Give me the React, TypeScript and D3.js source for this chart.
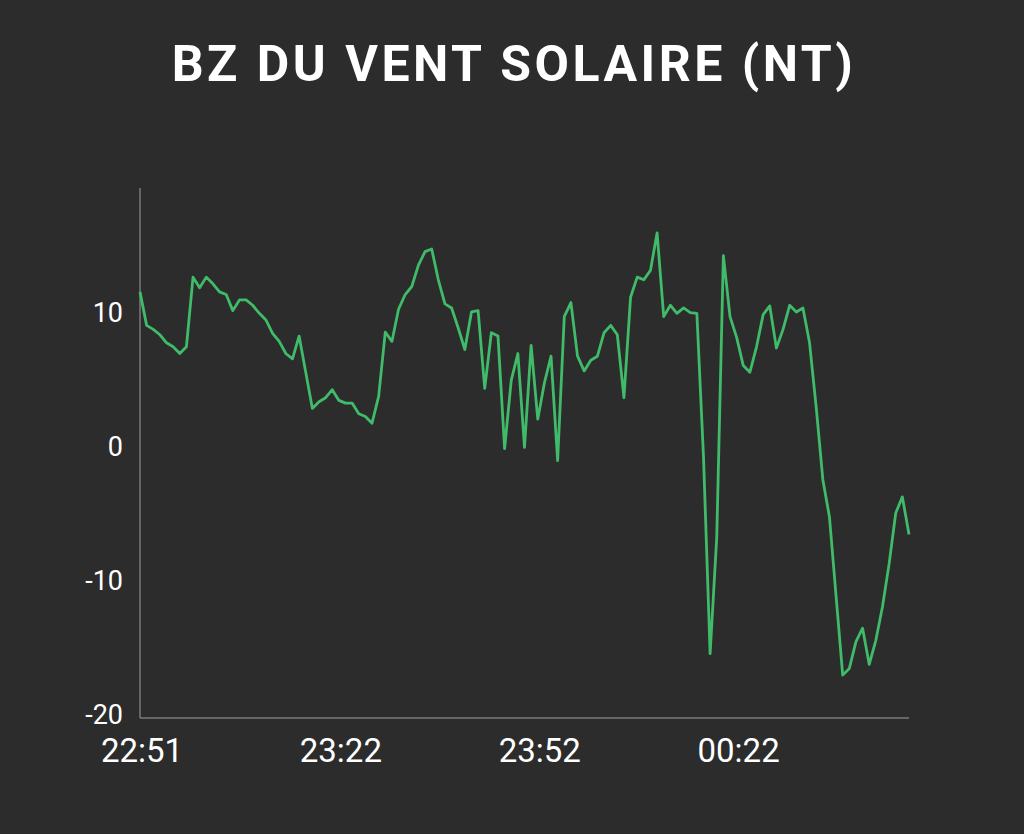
import React from "react";
import * as d3 from "d3";

const title = "BZ DU VENT SOLAIRE (NT)";
const bzValues: number[] = [
  11.8, 9.3, 9.0, 8.6, 8.0, 7.7, 7.2, 7.7, 12.9, 12.1,
  12.9, 12.4, 11.8, 11.6, 10.4, 11.2, 11.2, 10.8, 10.2, 9.7,
  8.7, 8.1, 7.2, 6.8, 8.5, 5.8, 3.1, 3.6, 3.9, 4.5,
  3.7, 3.5, 3.5, 2.7, 2.5, 2.0, 4.0, 8.8, 8.1, 10.5,
  11.6, 12.2, 13.8, 14.8, 15.0, 12.7, 10.9, 10.6, 9.1, 7.5,
  10.3, 10.4, 4.6, 8.75, 8.5, 0.1, 5.2, 7.2, 0.2, 7.8,
  2.3, 5.0, 7.0, -0.8, 9.95, 11.0, 7.0, 5.9, 6.7, 7.0,
  8.75, 9.3, 8.6, 3.9, 11.4, 12.9, 12.7, 13.4, 16.2, 9.95,
  10.8, 10.2, 10.6, 10.25, 10.2, -0.5, -15.2, -6.5, 14.5, 9.95,
  8.4, 6.3, 5.8, 7.7, 10.1, 10.75, 7.6, 9.0, 10.8, 10.3,
  10.6, 8.0, 3.2, -2.2, -5.0, -10.9, -16.8, -16.3, -14.3, -13.3,
  -16.0, -14.2, -11.7, -8.5, -4.7, -3.5, -6.3,
];
const xTickIndex: number[] = [0, 30, 60, 90];
const xTickLabels: string[] = ["22:51", "23:22", "23:52", "00:22"];
const yTicks: number[] = [10, 0, -10, -20];

export default function App() {
  const W = 1024;
  const H = 834;
  const left = 140;
  const right = 909;
  const top = 188;
  const bottom = 718;

  const x = d3.scaleLinear().domain([0, bzValues.length - 1]).range([left, right]);
  const y = d3.scaleLinear().domain([-20, 19.55]).range([bottom, top]);

  const line = d3
    .line<number>()
    .x((_, i) => x(i))
    .y((d) => y(d));

  return (
    <svg
      width={W}
      height={H}
      style={{ position: "absolute", left: 0, top: 0, display: "block" }}
    >
      <rect x={0} y={0} width={W} height={H} fill="#2c2c2c" />
      <text
        x={514}
        y={81}
        textAnchor="middle"
        fill="#ffffff"
        fontFamily="Roboto, 'Noto Sans', sans-serif"
        fontWeight={700}
        fontSize={50}
        letterSpacing={3.5}
      >
        {title}
      </text>
      <line x1={left} x2={left} y1={top} y2={bottom} stroke="#7a7a7a" strokeWidth={1.5} />
      <line x1={left} x2={right} y1={bottom} y2={bottom} stroke="#7a7a7a" strokeWidth={1.5} />
      {yTicks.map((t) => (
        <text
          key={t}
          x={123}
          y={y(t) - 3}
          textAnchor="end"
          dominantBaseline="central"
          fill="#ffffff"
          fontFamily="Roboto, sans-serif"
          fontSize={27}
        >
          {t}
        </text>
      ))}
      {xTickIndex.map((t, i) => (
        <text
          key={t}
          x={x(t) + 2}
          y={762}
          textAnchor="middle"
          fill="#ffffff"
          fontFamily="Roboto, sans-serif"
          fontSize={33}
        >
          {xTickLabels[i]}
        </text>
      ))}
      <path
        d={line(bzValues) || ""}
        fill="none"
        stroke="#3fbb69"
        strokeWidth={2.8}
        strokeLinejoin="round"
      />
    </svg>
  );
}
